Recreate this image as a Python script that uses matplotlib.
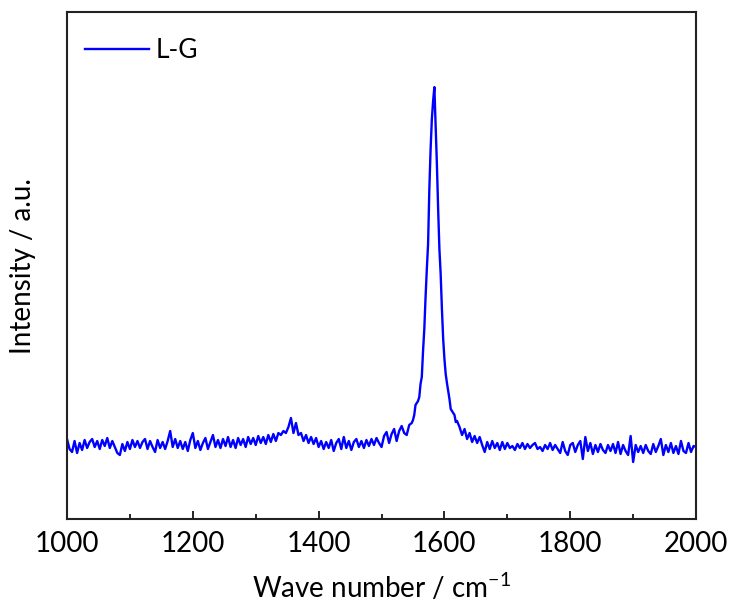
import numpy as np
import matplotlib
matplotlib.use("Agg")
import matplotlib.pyplot as plt

plt.rcParams['font.family'] = ['Lato', 'DejaVu Sans']
plt.rcParams['mathtext.fontset'] = 'custom'
plt.rcParams['mathtext.rm'] = 'Lato'

# wavenumber grid (cm^-1), finer sampling across the G band
wn = np.concatenate([np.arange(1000, 1548, 4),
                     np.arange(1548, 1622, 2),
                     np.arange(1624, 2001, 4)])

base_left = [
    80, 70, 67, 78, 66, 76, 69, 79, 71, 77,
    80, 72, 78, 70, 79, 73, 81, 71, 78, 72,
    66, 64, 75, 68, 77, 70, 79, 72, 78, 71,
    77, 80, 70, 78, 72, 67, 79, 71, 77, 70,
    78, 88, 72, 80, 71, 78, 70, 77, 68, 79,
    86, 71, 78, 69, 76, 81, 70, 77, 84, 72,
    79, 71, 80, 73, 82, 72, 79, 71, 81, 74,
    80, 72, 82, 75, 81, 74, 83, 76, 82, 75,
    84, 77, 85, 78, 86, 84, 88, 86, 92, 101,
    86, 96, 84, 86, 78, 84, 76, 82, 75, 81,
    72, 78, 70, 77, 71, 79, 68, 76, 80, 70,
    82, 71, 78, 69, 77, 80, 72, 78, 71, 79,
    73, 80, 74, 81, 76, 72, 83, 87, 76, 85,
    90, 78, 88, 93, 86, 84, 94,
]
g_band = [
    96, 99, 104, 114, 116, 118, 122, 135, 142, 168,
    190, 222, 250, 275, 330, 370, 400, 418, 432, 395,
    355, 310, 270, 245, 210, 180, 160, 145, 136, 128,
    120, 110, 108, 106, 104, 97, 98,
]
base_right = [
    92, 84, 90, 80, 86, 77, 83, 76, 82, 74,
    67, 77, 70, 78, 71, 76, 69, 77, 70, 76,
    71, 73, 69, 75, 71, 76, 70, 75, 71, 74,
    76, 70, 72, 68, 74, 70, 76, 69, 74, 70,
    66, 77, 68, 64, 74, 76, 67, 74, 78, 60,
    82, 68, 76, 65, 74, 67, 75, 69, 66, 74,
    68, 75, 66, 77, 65, 74, 68, 64, 83, 57,
    74, 67, 73, 66, 74, 68, 65, 75, 67, 73,
    80, 64, 74, 67, 76, 66, 73, 65, 78, 68,
    66, 76, 67, 73, 72,
]
intensity = np.array(base_left + g_band + base_right)

fig = plt.figure(figsize=(7.34, 6.07), dpi=100)
ax = fig.add_axes([0.0913, 0.145, 0.857, 0.835])

ax.plot(wn, intensity, color='#0000ff', lw=1.7, label='L-G')

ax.set_xlim(1000, 2000)
ax.set_ylim(0, 507)
ax.set_xticks(np.arange(1000, 2001, 200))
ax.set_xticks(np.arange(1100, 2000, 200), minor=True)
ax.set_yticks([])
ax.tick_params(axis='x', which='major', direction='in', length=6, width=1.2,
               labelsize=20, pad=9)
ax.tick_params(axis='x', which='minor', direction='in', length=3.5, width=1.2)
for s in ax.spines.values():
    s.set_linewidth(1.5)
    s.set_color('#222222')

ax.set_xlabel('Wave number / cm$^{\\mathregular{-1}}$', fontsize=20, labelpad=10)
ax.set_ylabel('Intensity / a.u.', fontsize=20, labelpad=22)

ax.legend(loc='upper left', frameon=False, fontsize=19, handlelength=2.4,
          handletextpad=0.25, borderaxespad=0.3, bbox_to_anchor=(0.0, 0.985))

fig.savefig('out.png', dpi=100)
